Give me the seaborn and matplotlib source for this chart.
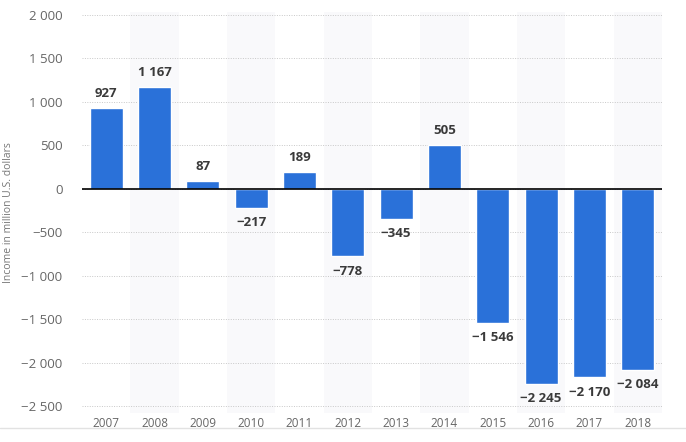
import matplotlib.pyplot as plt
import seaborn as sns
import pandas as pd

years = ["2007", "2008", "2009", "2010", "2011", "2012",
         "2013", "2014", "2015", "2016", "2017", "2018"]
income = [927, 1167, 87, -217, 189, -778, -345, 505, -1546, -2245, -2170, -2084]
y_ticks = [2000, 1500, 1000, 500, 0, -500, -1000, -1500, -2000, -2500]

BLUE = "#2a71d9"


def fmt(v):
    s = f"{abs(v):,}".replace(",", " ")
    return ("\u2212" + s) if v < 0 else s


sns.set_theme(style="white")
plt.rcParams["font.family"] = ["Open Sans", "DejaVu Sans"]

df = pd.DataFrame({"year": years, "income": income})

fig = plt.figure(figsize=(6.86, 4.42), dpi=100)
ax = fig.add_axes([0.1195, 0.0656, 0.8455, 0.9064])

# alternating column shading
for i in range(len(years)):
    if i % 2 == 1:
        ax.axvspan(i - 0.5, i + 0.5, color="#f9f9fb", zorder=0, lw=0)

for t in y_ticks:
    ax.axhline(t, color="#c8c8c8", lw=0.7, ls=(0, (1, 1.5)), zorder=1)

sns.barplot(data=df, x="year", y="income", color=BLUE, width=0.68,
            saturation=1, ax=ax, zorder=2)
ax.axhline(0, color="black", lw=1.2, zorder=3)

ax.bar_label(ax.containers[0], labels=[fmt(v) for v in income], padding=6,
             fontsize=9.5, fontweight="bold", color="#3a3a3a")

ax.set_xlim(-0.5, 11.5)
ax.set_ylim(-2580, 2030)
ax.set_yticks(y_ticks)
ax.set_yticklabels([fmt(t) for t in y_ticks])
ax.tick_params(axis="y", labelsize=9.5, colors="#666666", length=0, pad=14)
ax.tick_params(axis="x", labelsize=8.5, colors="#666666", length=0, pad=3)
ax.set_xlabel("")
ax.set_ylabel("Income in million U.S. dollars", fontsize=7.5, color="#777777",
              labelpad=5)
for s in ax.spines.values():
    s.set_visible(False)

fig.add_artist(plt.Line2D([0, 1], [1 - 428 / 442] * 2, color="#e2e2e2", lw=1))

fig.savefig("out.png", dpi=100)
